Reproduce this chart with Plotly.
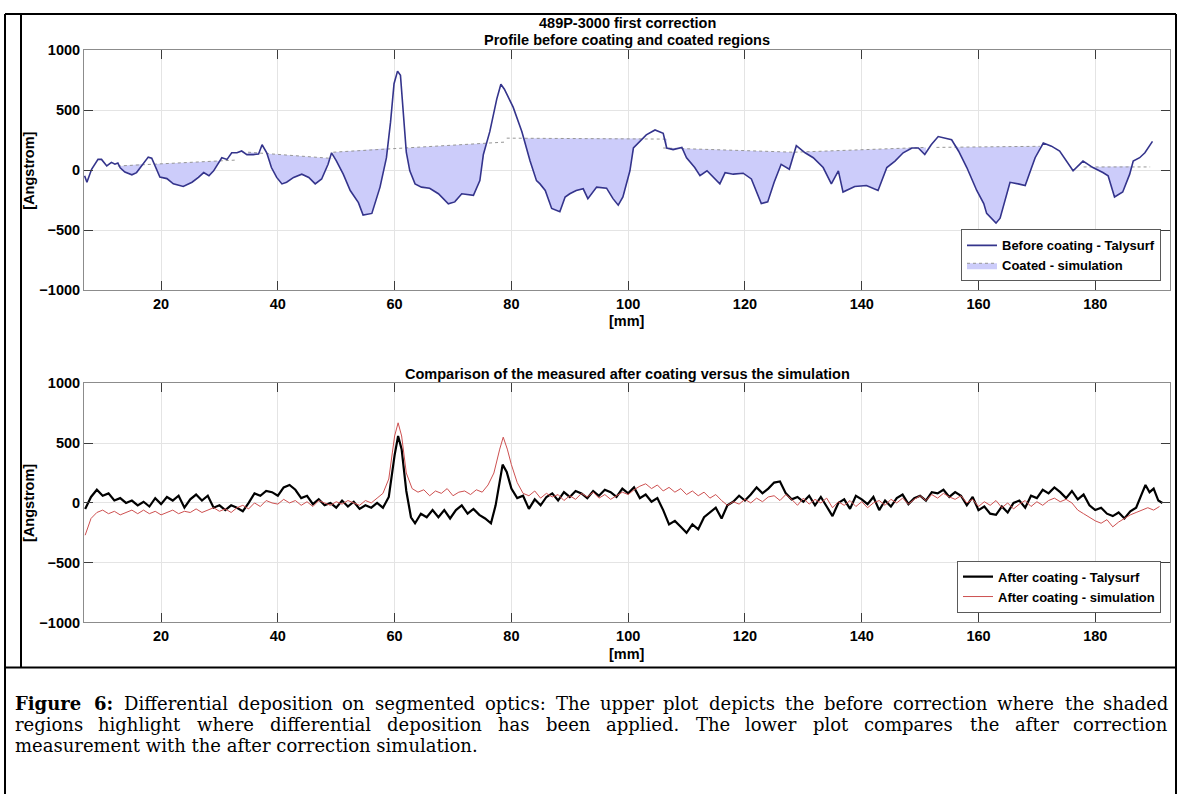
import numpy as np
import plotly.graph_objects as go

W, H = 1181, 802

# ---------------- data ----------------
# Upper plot: profile before coating (Talysurf)
profile_mm = [6.9, 7.3, 8.1, 9.2, 9.8, 10.7, 11.5, 12.1, 12.6, 13.0, 13.8, 15.0, 15.8, 16.7, 17.8, 18.4, 19.0, 19.8,
              21.0, 22.1, 23.8, 25.3, 26.4, 27.3, 28.2, 29.0, 30.4, 31.3, 32.1, 33.0, 33.8, 34.7, 35.8, 36.7, 37.3,
              38.1, 38.9, 39.8, 40.7, 41.5, 42.7, 44.1, 45.3, 46.4, 47.5, 48.6, 49.2, 50.0, 51.2, 52.4, 53.8, 54.6,
              56.1, 57.5, 58.6, 59.3, 59.9, 60.5, 61.0, 61.5, 62.0, 62.6, 63.5, 64.6, 66.0, 67.5, 69.2, 70.3, 71.5,
              73.5, 74.6, 75.2, 76.3, 77.5, 78.2, 78.8, 80.3, 81.8, 83.2, 84.3, 84.9, 85.8, 86.9, 88.3, 89.2, 90.0,
              91.1, 92.3, 93.1, 94.6, 96.3, 97.4, 98.3, 99.1, 100.3, 100.9, 102.0, 103.1, 104.6, 106.0, 106.6, 107.7,
              109.2, 110.0, 111.4, 112.3, 113.5, 114.0, 115.7, 116.6, 118.0, 119.7, 121.1, 122.8, 123.9, 125.0,
              126.2, 127.6, 128.8, 130.3, 131.7, 133.4, 134.8, 136.0, 136.8, 138.8, 140.8, 142.8, 144.3, 145.7,
              147.1, 148.6, 149.7, 150.8, 151.9, 153.1, 154.3, 155.4, 156.6, 158.0, 159.7, 160.9, 161.4, 163.0,
              163.7, 165.4, 166.8, 168.0, 169.1, 169.7, 171.1, 172.5, 173.9, 176.2, 177.9, 179.6, 181.3, 182.2,
              183.3, 184.7, 185.9, 186.5, 187.6, 188.5, 189.8]
profile_a = [-46, -100, 8, 90, 90, 35, 65, 50, 60, 20, -16, -38, -20, 35, 109, 100, 35, -57,
             -70, -114, -136, -100, -60, -20, -46, -5, 104, 90, 145, 145, 160, 130, 130, 135, 212,
             145, 22, -60, -114, -100, -60, -33, -60, -114, -73, 49, 145, 80, -33, -169, -270, -373,
             -360, -141, 104, 400, 720, 825, 790, 450, 150, -5, -114, -141, -150, -196, -280, -264, -196,
             -210, -87, 131, 321, 594, 716, 675, 525, 321, 76, -87, -114, -169, -319, -346, -223, -196,
             -169, -155, -237, -141, -150, -237, -291, -223, -5, 185, 240, 294, 335, 308, 185, 172,
             190, 104, 22, -46, -5, -30, -114, -20, -33, -25, -73, -278, -264, -100,
             49, 8, 204, 145, 104, 22, -114, -5, -182, -136, -128, -169, 22, 76,
             145, 185, 185, 131, 212, 280, 267, 253, 158, 22, -169, -278, -360, -441,
             -400, -101, -114, -128, 22, 104, 226, 200, 160, -5, 76, 22, -19, -46,
             -223, -182, -33, 76, 104, 145, 240]

# Coated simulation (dotted top of each coated region): start/end of each segment
coat_x0 = [12.6, 34.9, 49.5, 79.2, 106.0, 128.5, 152.8, 178.0]
coat_a0 = [35, 150, 150, 267, 185, 150, 190, 27]
coat_x1 = [32.7, 49.3, 78.9, 106.6, 128.3, 151.0, 170.5, 189.4]
coat_a1 = [84, 98, 234, 259, 150, 190, 199, 27]

# Lower plot: after coating, measured (Talysurf)
after_meas_mm = [7, 8, 9, 10, 11, 12, 13, 14, 15, 16, 17, 18, 19, 20, 21, 22, 23, 24, 25, 26, 27, 28, 29, 30,
                 31, 32, 33, 34, 35, 36, 37, 38, 39, 40, 41, 42, 43, 44, 45, 46, 47, 48, 49, 50, 51, 52, 53,
                 54, 55, 56, 57, 58, 59, 60, 60.6, 61.2, 62, 62.8, 63.5, 64.5, 65.5, 66.5, 67.5, 68.5, 69.5,
                 70.5, 71.5, 72.5, 73.5, 74.5, 75.5, 76.5, 77.3, 78.0, 78.5, 79.2, 80, 81, 82, 83, 84, 85, 86,
                 87, 88, 89, 90, 91, 92, 93, 94, 95, 96, 97, 98, 99, 100, 101, 102, 103, 104, 105, 106, 107,
                 108, 109, 110, 111, 112, 113, 114, 115, 116, 117, 118, 119, 120, 121, 122, 123, 124, 125,
                 126, 127, 128, 129, 130, 131, 132, 133, 134, 135, 136, 137, 138, 139, 140, 141, 142, 143,
                 144, 145, 146, 147, 148, 149, 150, 151, 152, 153, 154, 155, 156, 157, 158, 159, 160, 161,
                 162, 163, 164, 165, 166, 167, 168, 169, 170, 171, 172, 173, 174, 175, 176, 177, 178, 179,
                 180, 181, 182, 183, 184, 185, 186, 187, 188, 188.6, 189.3, 190, 190.8, 191.5]
after_meas_a = [-50, 50, 110, 60, 80, 20, 40, 0, 20, -20, 10, -30, 40, -10, 50, 20, 60, -40, 30, 70, 20, 60, -40,
                -20, -60, -20, -40, -70, 0, 80, 60, 100, 90, 60, 130, 150, 110, 40, 60, -10, 30, -20, 0, -40, 20,
                -30, 10, -50, -20, -40, 0, -40, 50, 400, 560, 450, 100, -120, -170, -90, -120, -60, -120, -60,
                -130, -60, -20, -90, -50, -100, -130, -170, -20, 200, 320, 260, 120, 40, 60, -50, 30, -20, 50,
                80, 20, 90, 50, 100, 80, 40, 100, 60, 110, 90, 50, 120, 80, 130, 40, 70, 10, 40, -60, -180,
                -150, -200, -250, -180, -220, -120, -80, -40, -130, -20, 10, 60, 20, 70, 130, 80, 120, 170,
                180, 80, 30, 50, 10, 60, -20, 50, -30, -110, 0, 30, -50, 60, 30, -10, 50, -60,
                20, -30, 40, 70, -10, 40, 60, 20, 90, 80, 110, 50, 90, 60, -20, 50, -60, -30,
                -90, -100, -30, -80, 0, 20, -40, 60, 40, 110, 80, 130, 90, 40, 100, 30, 70, -20,
                -60, -40, -90, -110, -80, -130, -70, -40, 80, 150, 90, 120, 20, 0]

# Lower plot: after coating, simulation
after_sim_mm = [7, 7.5, 8, 9, 10, 11, 12, 13, 14, 15, 16, 17, 18, 19, 20, 21, 22, 23, 24, 25, 26, 27, 28, 29,
                30, 31, 32, 33, 34, 35, 36, 37, 38, 39, 40, 41, 42, 43, 44, 45, 46, 47, 48, 49, 50, 51, 52,
                53, 54, 55, 56, 57, 58, 59, 60, 60.6, 61.2, 62, 63, 64, 65, 66, 67, 68, 69, 70, 71, 72, 73,
                74, 75, 76, 77, 78, 78.6, 79.3, 80, 81, 82, 83, 84, 85, 86, 87, 88, 89, 90, 91, 92, 93, 94,
                95, 96, 97, 98, 99, 100, 101, 102, 103, 104, 105, 106, 107, 108, 109, 110, 111, 112, 113,
                114, 115, 116, 117, 118, 119, 120, 121, 122, 123, 124, 125, 126, 127, 128, 129, 130, 131,
                132, 133, 134, 135, 136, 137, 138, 139, 140, 141, 142, 143, 144, 145, 146, 147, 148, 149,
                150, 151, 152, 153, 154, 155, 156, 157, 158, 159, 160, 161, 162, 163, 164, 165, 166, 167,
                168, 169, 170, 171, 172, 173, 174, 175, 176, 177, 178, 179, 180, 181, 182, 183, 184, 185,
                186, 187, 188, 189, 190, 191]
after_sim_a = [-270, -200, -130, -80, -60, -90, -70, -100, -80, -60, -90, -60, -90, -70, -100, -80, -60, -90,
               -70, -80, -50, -80, -60, -40, -70, -50, -80, -40, -20, -50, 0, -30, 20, 0, -10, 30, 0, 20, -20,
               10, -30, 20, 0, -20, 10, -10, 20, 0, -20, 20, 0, 40, 80, 200, 560, 670, 560, 250, 120, 90,
               110, 60, 100, 80, 120, 60, 90, 100, 70, 110, 90, 150, 250, 450, 550, 450, 320, 170, 80, 60,
               100, 40, 80, 50, 70, 20, 60, 30, 80, 50, 90, 40, 70, 30, 60, 90, 70, 110, 140, 160, 120,
               150, 100, 130, 90, 120, 70, 100, 60, 90, 40, 70, 20, -20, 10, -10, 30, 0, 40, 10, 50, 60,
               20, 70, 30, -20, 40, -10, 30, 0, 40, -40, 10, -20, 20, -30, 10, -40, 0, 20, -20, 30, 0,
               40, -10, 30, 60, 20, 70, 40, 80, 50, 30, 60, 0, 30, -30, 10, -20, 20, -40, 0, -50, -10,
               20, -30, 10, -20, 20, 40, 10, 30, 0, -60, -90, -120, -150, -170, -140, -200, -160, -130,
               -100, -80, -60, -40, -60, -30]

x_ticks = [20, 40, 60, 80, 100, 120, 140, 160, 180]
y_ticks = [-1000, -500, 0, 500, 1000]

title_top_1 = "489P-3000 first correction"
title_top_2 = "Profile before coating and coated regions"
title_bottom = "Comparison of the measured after coating versus the simulation"
caption_bold = "Figure 6:"
caption_lines = [
    "Figure 6: Differential deposition on segmented optics: The upper plot depicts the before correction where the shaded",
    "regions highlight where differential deposition has been applied. The lower plot compares the after correction",
    "measurement with the after correction simulation.",
]

# ---------------- styling helpers ----------------
def px(x):
    return x / W


def py(y):
    return 1 - y / H


SANS = "Liberation Sans, Arial, sans-serif"
SERIF = "DejaVu Serif, Liberation Serif, serif"
PROFILE_COLOR = "rgb(52,52,140)"
FILL_COLOR = "rgb(204,204,250)"
DOT_COLOR = "rgb(150,150,150)"
SIM_RED = "rgb(205,80,80)"

fig = go.Figure()

# coated regions (fill between profile and dotted coated line)
pm = np.array(profile_mm, dtype=float)
pa = np.array(profile_a, dtype=float)
for i in range(len(coat_x0)):
    xs = np.linspace(coat_x0[i], coat_x1[i], 400)
    prof = np.interp(xs, pm, pa)
    coat = np.interp(xs, [coat_x0[i], coat_x1[i]], [coat_a0[i], coat_a1[i]])
    top = np.maximum(prof, coat)
    fig.add_trace(go.Scatter(x=xs, y=prof, mode="lines", line=dict(width=0, color=FILL_COLOR),
                             showlegend=False, hoverinfo="skip", xaxis="x", yaxis="y"))
    fig.add_trace(go.Scatter(x=xs, y=top, mode="lines", fill="tonexty", fillcolor=FILL_COLOR,
                             line=dict(width=0, color=FILL_COLOR), showlegend=False, hoverinfo="skip",
                             xaxis="x", yaxis="y"))
    fig.add_trace(go.Scatter(x=[coat_x0[i], coat_x1[i]], y=[coat_a0[i], coat_a1[i]], mode="lines",
                             line=dict(width=1, color=DOT_COLOR, dash="dot"),
                             showlegend=False, hoverinfo="skip", xaxis="x", yaxis="y"))

fig.add_trace(go.Scatter(x=profile_mm, y=profile_a, mode="lines", name="Before coating - Talysurf",
                         line=dict(color=PROFILE_COLOR, width=1.6), xaxis="x", yaxis="y", legend="legend"))
# legend-only entry for the coated fill
fig.add_trace(go.Scatter(x=[None], y=[None], mode="lines", name="Coated - simulation", fill="toself",
                         fillcolor=FILL_COLOR, line=dict(color=DOT_COLOR, width=1, dash="dot"),
                         xaxis="x", yaxis="y", legend="legend"))

fig.add_trace(go.Scatter(x=after_meas_mm, y=after_meas_a, mode="lines", name="After coating - Talysurf",
                         line=dict(color="black", width=2.2), xaxis="x2", yaxis="y2", legend="legend2"))
fig.add_trace(go.Scatter(x=after_sim_mm, y=after_sim_a, mode="lines", name="After coating - simulation",
                         line=dict(color=SIM_RED, width=1), xaxis="x2", yaxis="y2", legend="legend2"))

axis_common = dict(
    showgrid=True, gridcolor="rgb(228,228,228)", gridwidth=1,
    showline=True, linecolor="rgb(140,140,140)", linewidth=1, mirror="ticks",
    ticks="inside", ticklen=9, tickcolor="rgb(60,60,60)", tickwidth=1,
    tickfont=dict(family=SANS, size=14.5, color="black", weight="bold"),
    zeroline=False,
)

legend_common = dict(xanchor="right", yanchor="bottom", bordercolor="rgb(90,90,90)", borderwidth=1,
                     bgcolor="white", font=dict(family=SANS, size=13, color="black", weight="bold"),
                     itemwidth=30, tracegroupgap=0, traceorder="normal")

x_dom = [px(84), px(1170)]
fig.update_layout(
    width=W, height=H, margin=dict(l=0, r=0, t=0, b=0),
    paper_bgcolor="white", plot_bgcolor="white",
    xaxis=dict(domain=x_dom, range=[6.8, 192.8], tickvals=x_ticks, anchor="y", **axis_common),
    yaxis=dict(domain=[py(288), py(43)], range=[-1000, 1000], tickvals=y_ticks, anchor="x", **axis_common),
    xaxis2=dict(domain=x_dom, range=[6.8, 192.8], tickvals=x_ticks, anchor="y2", **axis_common),
    yaxis2=dict(domain=[py(627), py(383)], range=[-1000, 1000], tickvals=y_ticks, anchor="x2", **axis_common),
    legend=dict(x=px(1161), y=py(279), **legend_common),
    legend2=dict(x=px(1161), y=py(617), **legend_common),
    showlegend=True,
)

ann = []
tfont = dict(family=SANS, size=14.5, color="black", weight="bold")
ann.append(dict(x=px(627), y=py(15), text=title_top_1, showarrow=False, font=tfont,
                xref="paper", yref="paper", xanchor="center", yanchor="middle"))
ann.append(dict(x=px(627), y=py(33), text=title_top_2, showarrow=False, font=tfont,
                xref="paper", yref="paper", xanchor="center", yanchor="middle"))
ann.append(dict(x=px(627), y=py(373), text=title_bottom, showarrow=False, font=tfont,
                xref="paper", yref="paper", xanchor="center", yanchor="middle"))
for yc in (166, 505):
    ann.append(dict(x=px(29), y=py(yc), text="[Angstrom]", textangle=-90, showarrow=False, font=tfont,
                    xref="paper", yref="paper", xanchor="center", yanchor="middle"))
for yc in (319, 659):
    ann.append(dict(x=px(627), y=py(yc), text="[mm]", showarrow=False, font=tfont,
                    xref="paper", yref="paper", xanchor="center", yanchor="middle"))

# ---- caption: justified lines, words placed using approximate DejaVu Serif advance widths ----
SERIF_W = {' ': 318, '.': 318, ':': 337, ',': 318, '6': 636,
           'D': 771, 'F': 677, 'T': 669,
           'a': 596, 'b': 640, 'c': 560, 'd': 640, 'e': 592, 'f': 370, 'g': 640, 'h': 644, 'i': 320,
           'k': 610, 'l': 320, 'm': 948, 'n': 644, 'o': 602, 'p': 640, 'r': 478, 's': 513, 't': 402,
           'u': 644, 'v': 565, 'w': 857, 'y': 565}
SERIF_BOLD_W = {'F': 740, 'i': 420, 'g': 710, 'u': 770, 'r': 580, 'e': 670, '6': 696, ':': 400}
CAP_SIZE = 18
CAP_LEFT, CAP_RIGHT = 14, 1169
CAP_Y0, CAP_DY = 710, 21.5
cfont = dict(family=SERIF, size=CAP_SIZE, color="black")
bold_words = caption_bold.split()


def word_width(w, bold):
    table = SERIF_BOLD_W if bold else SERIF_W
    return sum(table.get(c, SERIF_W.get(c, 600)) for c in w) * CAP_SIZE / 1000.0


for li, line in enumerate(caption_lines):
    words = line.split()
    yc = py(CAP_Y0 + CAP_DY * li)
    bolds = [li == 0 and j < len(bold_words) and words[j] == bold_words[j] for j in range(len(words))]
    widths = [word_width(w, b) for w, b in zip(words, bolds)]
    justify = li < len(caption_lines) - 1
    if justify:
        gap = (CAP_RIGHT - CAP_LEFT - sum(widths)) / (len(words) - 1)
        if gap < 0:
            gap = 0
    else:
        gap = SERIF_W[' '] * CAP_SIZE / 1000.0
    if not justify:
        ann.append(dict(x=px(CAP_LEFT), y=yc, text=line, showarrow=False, font=cfont,
                        xref="paper", yref="paper", xanchor="left", yanchor="middle", borderpad=0))
        continue
    xpos = CAP_LEFT
    n = len(words)
    for j, (w, b, wd) in enumerate(zip(words, bolds, widths)):
        txt = f"<b>{w}</b>" if b else w
        if j == 0:
            xa, xx = "left", CAP_LEFT
        elif j == n - 1:
            xa, xx = "right", CAP_RIGHT
        else:
            xa, xx = "center", xpos + wd / 2
        ann.append(dict(x=px(xx), y=yc, text=txt, showarrow=False, font=cfont,
                        xref="paper", yref="paper", xanchor=xa, yanchor="middle", borderpad=0))
        xpos += wd + gap
fig.update_layout(annotations=ann)

# frame lines
shapes = []


def seg(x0, y0, x1, y1, w=2):
    shapes.append(dict(type="line", xref="paper", yref="paper", x0=px(x0), y0=py(y0), x1=px(x1), y1=py(y1),
                       line=dict(color="black", width=w)))


seg(5, 6, 1176, 6)
seg(5, 6, 5, 802)
seg(1176, 6, 1176, 802)
seg(21, 6, 21, 673)
seg(5, 673, 1176, 673)
fig.update_layout(shapes=shapes)

fig.write_html("out.html")
